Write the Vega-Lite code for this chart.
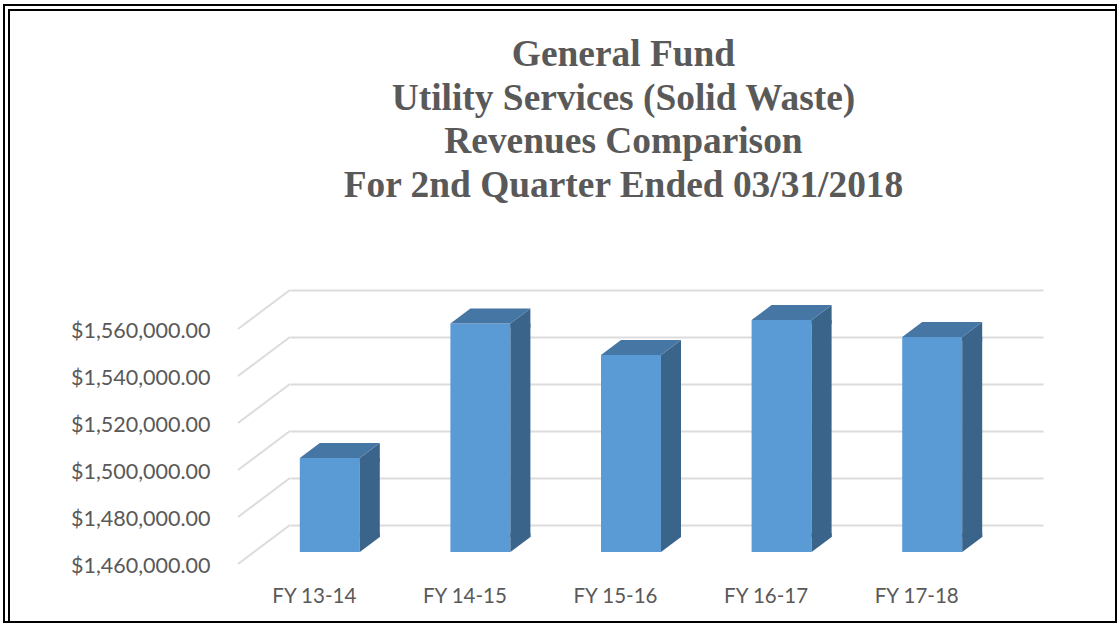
{
"$schema":"https://vega.github.io/schema/vega-lite/v6.json",
"autosize":{"type":"none"},
"padding":{"left":290,"top":290,"right":74,"bottom":100},
"width":753,"height":235,
"background":"white",
"config":{"view":{"stroke":null}},
"title":{"text":["General Fund","Utility Services (Solid Waste)","Revenues Comparison","For 2nd Quarter Ended 03/31/2018"],"font":"Liberation Serif","fontSize":37.4,"fontWeight":"bold","color":"#595959","anchor":"middle","frame":"group","dx":-43,"lineHeight":43.5,"offset":-200},
"datasets":{
"bars":[{"fy":"FY 13-14","revenue":1500000},{"fy":"FY 14-15","revenue":1557200},{"fy":"FY 15-16","revenue":1543800},{"fy":"FY 16-17","revenue":1558700},{"fy":"FY 17-18","revenue":1551500}],
"ticks":[{"tick":1460000},{"tick":1480000},{"tick":1500000},{"tick":1520000},{"tick":1540000},{"tick":1560000}],
"frame":[{"frame":"border"}]
},
"layer":[
{"data":{"name":"frame"},"mark":{"type":"rect","fill":"transparent","stroke":"black","strokeWidth":2},"encoding":{"x":{"value":-286},"x2":{"value":826},"y":{"value":-285},"y2":{"value":332}}},
{"data":{"name":"frame"},"mark":{"type":"rect","fill":"transparent","stroke":"black","strokeWidth":2},"encoding":{"x":{"value":-281},"x2":{"value":826},"y":{"value":-280},"y2":{"value":332}}},
{"data":{"name":"ticks"},"mark":{"type":"rule","color":"#DCDCDC","strokeWidth":2,"y2Offset":39},"encoding":{"y":{"field":"tick","type":"quantitative","scale":{"domain":[1460000,1560000],"nice":false,"zero":false},"axis":{"values":[1460000,1480000,1500000,1520000,1540000,1560000],"format":"$,.2f","title":null,"domain":false,"ticks":false,"grid":true,"gridColor":"#DCDCDC","gridWidth":2,"labelFont":"Lato","labelFontSize":21.5,"labelColor":"#595959","labelPadding":80,"labelOffset":41}},"y2":{"field":"tick"},"x":{"value":0},"x2":{"value":-52}}},
{"data":{"name":"bars"},"mark":{"type":"bar","color":"#5B9BD5","width":60,"xOffset":-35.5,"yOffset":27,"y2Offset":27},"encoding":{"x":{"field":"fy","type":"nominal","sort":null,"scale":{"paddingInner":0.6,"paddingOuter":0.3},"axis":{"title":null,"domain":false,"ticks":false,"labelAngle":0,"labelFont":"Lato","labelFontSize":20.5,"labelColor":"#595959","labelPadding":61,"labelOffset":-51}},"y":{"field":"revenue","type":"quantitative"},"y2":{"datum":1460000}}},
{"data":{"name":"bars"},"mark":{"type":"bar","color":"#3A6489","width":20,"xOffset":4.5,"yOffset":27,"y2Offset":12},"encoding":{"x":{"field":"fy","type":"nominal","sort":null},"y":{"field":"revenue","type":"quantitative"},"y2":{"datum":1460000}}},
{"data":{"name":"bars"},"mark":{"type":"point","filled":true,"opacity":1,"size":4,"color":"#3A6489","shape":"M-5.5,27 L14.5,12 L14.5,31 L-5.5,31 Z"},"encoding":{"x":{"field":"fy","type":"nominal","sort":null},"y":{"field":"revenue","type":"quantitative"}}},
{"data":{"name":"bars"},"mark":{"type":"point","filled":true,"opacity":1,"size":4,"color":"#3A6489","shape":"M-5.5,8 L14.5,8 L14.5,12 L-5.5,27 Z"},"encoding":{"x":{"field":"fy","type":"nominal","sort":null},"y":{"datum":1460000}}},
{"data":{"name":"bars"},"mark":{"type":"point","filled":true,"opacity":1,"size":4,"color":"#4676A3","shape":"M-65.5,27 L-5.5,27 L14.5,12 L-45.5,12 Z"},"encoding":{"x":{"field":"fy","type":"nominal","sort":null},"y":{"field":"revenue","type":"quantitative"}}}
]
}
